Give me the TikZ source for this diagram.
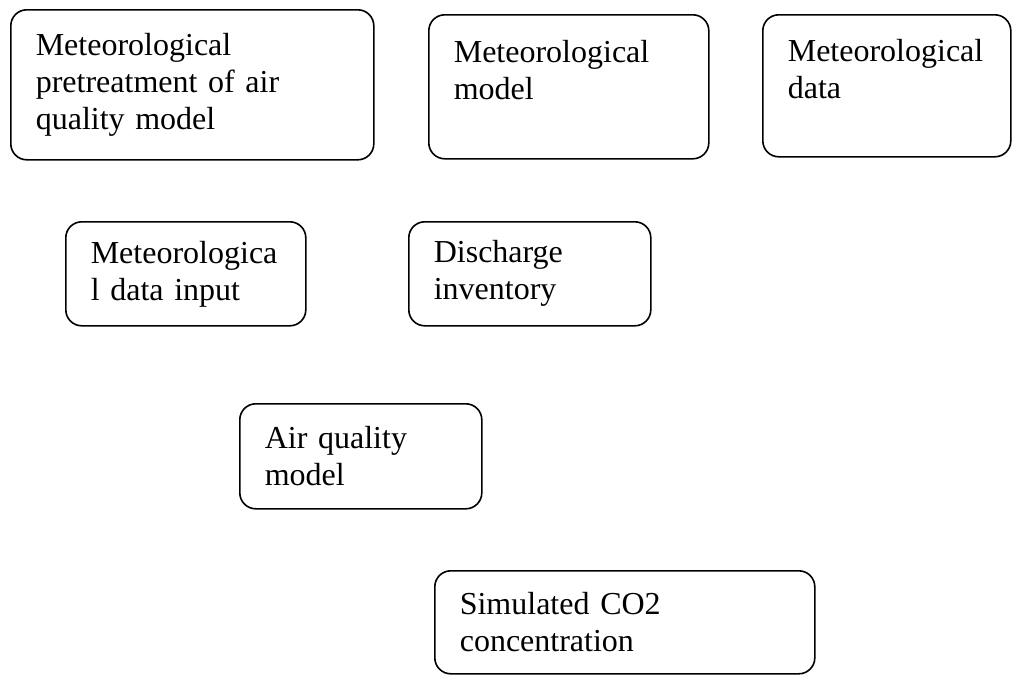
\documentclass[tikz,border=0pt]{standalone}
\usepackage{fontspec}
\setmainfont{Liberation Serif}
\usetikzlibrary{positioning}
\tikzset{
	% box style
	flowbox/.style={draw, line width=1.6pt, rounded corners=16pt, anchor=north west,
		inner xsep=25pt, inner ysep=0pt, align=left,
		font=\fontsize{32}{37}\selectfont},
}

\begin{document}
\begin{tikzpicture}[x=1pt,y=-1pt]
	\useasboundingbox (0,0) rectangle (1015,675);
	
	% top row
	\node[flowbox, text width=313pt, minimum height=150pt] (pretreat) at (10,9) {Meteorological\\pretreatment of air\\quality model};
	\node[flowbox, text width=230pt, minimum height=144pt] (metmodel) at (428,14) {Meteorological\\model\\[-14pt]\strut};
	\node[flowbox, text width=198pt, minimum height=142pt] (metdata) at (762,14) {Meteorological\\data\\[-14pt]\strut};
	
	% second row
	\node[flowbox, text width=190pt, minimum height=104pt] (metinput) at (65,221) {Meteorologica\\l data input};
	\node[flowbox, text width=192pt, minimum height=104pt] (discharge) at (408,221) {Discharge\\inventory};
	
	% model and result
	\node[flowbox, text width=192pt, minimum height=105pt] (airmodel) at (239,403) {Air quality\\model};
	\node[flowbox, text width=330pt, minimum height=103pt] (simco) at (434,570) {Simulated CO2\\concentration};
	
\end{tikzpicture}
\end{document}
